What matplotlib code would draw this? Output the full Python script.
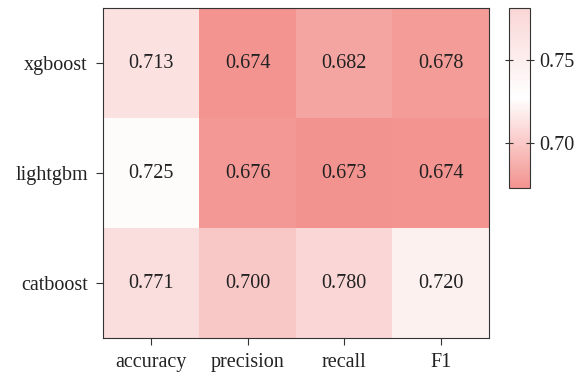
import numpy as np
import matplotlib
matplotlib.use("Agg")
import matplotlib.pyplot as plt
from matplotlib.colors import LinearSegmentedColormap

models = ["xgboost", "lightgbm", "catboost"]
metrics = ["accuracy", "precision", "recall", "F1"]
scores = [
    [0.713, 0.674, 0.682, 0.678],
    [0.725, 0.676, 0.673, 0.674],
    [0.771, 0.700, 0.780, 0.720],
]
cbar_ticks = [0.70, 0.75]

plt.rcParams["font.family"] = ["Liberation Serif", "DejaVu Serif"]

cmap = LinearSegmentedColormap.from_list(
    "salmon_white_pink", ["#f3938f", "#ffffff", "#fad6d6"], N=256)

fig = plt.figure(figsize=(5.77, 3.74), dpi=100)
ax = fig.add_axes([103 / 577, 1 - 338 / 374, 386 / 577, 330 / 374])
cax = fig.add_axes([509 / 577, 1 - 188 / 374, 21 / 577, 180 / 374])

data = np.array(scores)
im = ax.imshow(data, cmap=cmap, vmin=0.673, vmax=0.781, aspect="auto")

fs = 14.5
for i in range(data.shape[0]):
    for j in range(data.shape[1]):
        ax.text(j, i, f"{data[i, j]:.3f}", ha="center", va="center",
                fontsize=fs, color="#222222")

ax.set_xticks(range(len(metrics)))
ax.set_xticklabels(metrics)
ax.set_yticks(range(len(models)))
ax.set_yticklabels(models)
ax.tick_params(labelsize=fs, length=5, pad=6, color="#333333", labelcolor="#222222")
for s in ax.spines.values():
    s.set_color("#333333")

cb = fig.colorbar(im, cax=cax)
cb.set_ticks(cbar_ticks)
cb.set_ticklabels([f"{t:.2f}" for t in cbar_ticks])
cb.ax.tick_params(labelsize=fs, left=True, right=True, direction="inout",
                  length=6, color="#333333", labelcolor="#222222")
cb.outline.set_edgecolor("#333333")

fig.savefig("out.png", dpi=100, facecolor="white")
